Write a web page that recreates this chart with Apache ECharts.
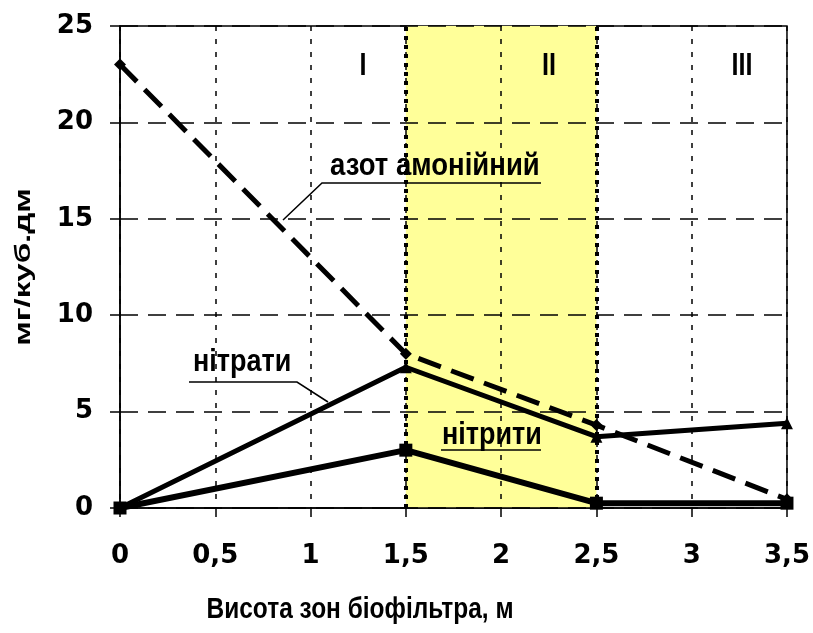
<!DOCTYPE html>
<html><head><meta charset="utf-8">
<script src="https://cdn.jsdelivr.net/npm/echarts@6/dist/echarts.min.js"></script>
<style>html,body{margin:0;padding:0;background:#fff}#c{width:813px;height:633px}</style>
</head><body><div id="c"></div>
<script>
const xValues = [0, 1.5, 2.5, 3.5];
const ammonium = [23, 8, 4.3, 0.45];
const nitrates = [0, 7.3, 3.7, 4.4];
const nitrites = [0, 3.0, 0.25, 0.25];
const zoneBounds = [1.5, 2.5];
const zoneLabels = ['I', 'II', 'III'];
const xTitle = 'Висота зон біофільтра, м';
const yTitle = 'мг/куб.дм';
const labelAmmonium = 'азот амонійний';
const labelNitrates = 'нітрати';
const labelNitrites = 'нітрити';

const F = '"Liberation Sans", Arial, sans-serif';
const FD = '"DejaVu Sans", Verdana, sans-serif';
const chart = echarts.init(document.getElementById('c'));
const pts = arr => xValues.map((x, i) => [x, arr[i]]);

function txt(text, x, y, size, sx, sy, align, rot) {
  return { type: 'text', x: x, y: y, z: 10, scaleX: sx, scaleY: sy, rotation: rot || 0,
    style: { text: text, font: 'bold ' + size + 'px ' + F, fill: '#000',
      textAlign: align || 'left', textVerticalAlign: 'middle' } };
}

const option = {
  animation: false,
  backgroundColor: '#fff',
  grid: { left: 120, right: 25, top: 26, bottom: 125, show: true, borderColor: '#000', borderWidth: 1.5, backgroundColor: 'transparent' },
  xAxis: {
    type: 'value', min: 0, max: 3.5, interval: 0.5, z: 3,
    axisLine: { lineStyle: { color: '#000', width: 1.5 } },
    axisTick: { length: 9, lineStyle: { color: '#000', width: 1.5 } },
    axisLabel: { color: '#000', fontFamily: FD, fontWeight: 'bold', fontSize: 26, margin: 35,
      formatter: v => String(v).replace('.', ',') },
    splitLine: { show: true, lineStyle: { color: '#000', width: 1.5, type: [5, 8] } }
  },
  yAxis: {
    type: 'value', min: 0, max: 25, interval: 5, z: 3,
    axisLine: { lineStyle: { color: '#000', width: 1.5 } },
    axisTick: { length: 10, lineStyle: { color: '#000', width: 1.5 } },
    axisLabel: { color: '#000', fontFamily: FD, fontWeight: 'bold', fontSize: 26, margin: 27 },
    splitLine: { show: true, lineStyle: { color: '#000', width: 1.5, type: [18, 10] } }
  },
  series: [
    {
      type: 'line', data: [], z: 1, silent: true,
      markArea: { silent: true, itemStyle: { color: '#ffff99' },
        data: [[{ xAxis: zoneBounds[0] }, { xAxis: zoneBounds[1] }]] }
    },
    {
      type: 'line', data: [], z: 4, silent: true,
      markLine: { silent: true, symbol: 'none', label: { show: false },
        lineStyle: { color: '#000', width: 4, type: [4, 5] },
        data: zoneBounds.map(v => ({ xAxis: v })) }
    },
    {
      name: labelAmmonium, type: 'line', data: pts(ammonium), z: 5,
      lineStyle: { color: '#000', width: 5, type: [24, 11] },
      symbol: 'diamond', symbolSize: 12, itemStyle: { color: '#000' }
    },
    {
      name: labelNitrates, type: 'line', data: pts(nitrates), z: 5,
      lineStyle: { color: '#000', width: 5 },
      symbol: 'triangle', symbolSize: 12, itemStyle: { color: '#000' }
    },
    {
      name: labelNitrites, type: 'line', data: pts(nitrites), z: 5,
      lineStyle: { color: '#000', width: 6 },
      symbol: 'rect', symbolSize: 13, itemStyle: { color: '#000' }
    }
  ],
  graphic: [
    txt(zoneLabels[0], 363, 66, 24, 1.05, 1.3, 'center'),
    txt(zoneLabels[1], 549, 66, 24, 1.05, 1.3, 'center'),
    txt(zoneLabels[2], 742, 66, 24, 1.05, 1.3, 'center'),
    txt(labelAmmonium, 330, 166, 27, 1.02, 1.15),
    { type: 'polyline', z: 10, shape: { points: [[541, 183], [322, 183], [283, 220]] }, style: { stroke: '#000', lineWidth: 1.5, fill: null } },
    txt(labelNitrates, 193, 362, 27, 1, 1.15),
    { type: 'polyline', z: 10, shape: { points: [[189, 382], [297, 382], [328, 402]] }, style: { stroke: '#000', lineWidth: 1.5, fill: null } },
    txt(labelNitrites, 442, 435, 27, 1, 1.15),
    { type: 'line', z: 10, shape: { x1: 441, y1: 450, x2: 541, y2: 450 }, style: { stroke: '#000', lineWidth: 1.5 } },
    txt(xTitle, 360, 610, 24, 1.02, 1.2, 'center'),
    txt(yTitle, 24, 267, 24, 1.38, 0.95, 'center', Math.PI / 2)
  ]
};
chart.setOption(option);
</script></body></html>
